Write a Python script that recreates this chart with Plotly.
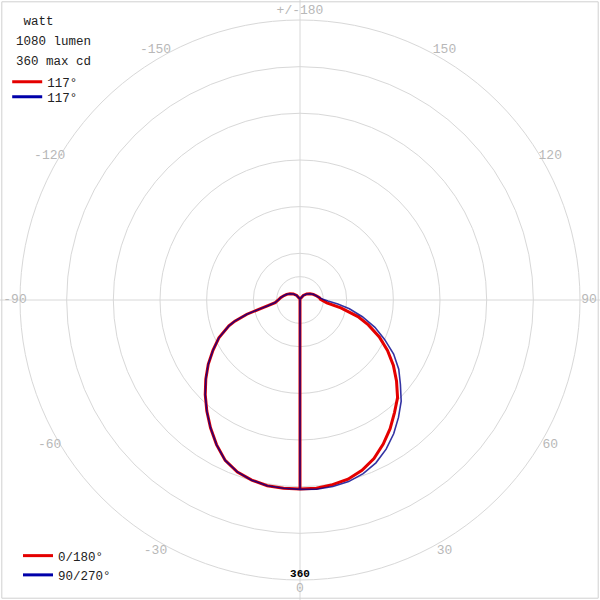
import plotly.graph_objects as go

# ---------------- data ----------------
# 0/180 plane (red): gamma angle (deg) and intensity
red_theta = [-180, -165, -153, -144, -132, -122, -113, -103.5, -97, -90, -84, -80, -77.5, -75, -72, -70,
             -65, -60, -55, -50, -45, -40, -35, -30, -25, -20, -15, -10, -5, 0,
             5, 10, 15, 20, 25, 30, 35, 40, 45, 50, 55, 60, 65, 70, 74, 79, 84, 92,
             97, 103.5, 113, 122, 132, 144, 153, 165, 180]
red_r = [1.9, 2.3, 2.8, 7.2, 11.6, 15.2, 18.6, 22.1, 25.1, 27.9, 32.1, 41.8, 52.7, 70.7, 88.1, 97.3,
         115.1, 129.2, 144.0, 158.1, 172.3, 186.4, 200.6, 214.7, 227.6, 235.3, 239.8, 242.4, 243.0, 243.0,
         243.0, 241.0, 238.5, 233.0, 225.0, 214.0, 202.0, 189.0, 177.4, 162.0, 146.6, 129.9, 112.5, 93.5,
         77.5, 53.5, 34.7, 26.4,
         25.1, 22.1, 18.6, 15.2, 11.6, 7.2, 2.8, 2.3, 1.9]

# 90/270 plane (blue)
blue_theta = [-180, -165, -153, -144, -132, -122, -113, -103.5, -97, -90, -84, -80, -77.5, -75, -72, -70,
              -65, -60, -55, -50, -45, -40, -35, -30, -25, -20, -15, -10, -5, 0,
              5, 10, 15, 20, 25, 30, 35, 40, 45, 50, 55, 60, 65, 70, 75, 80, 84, 88, 92,
              97, 103.5, 113, 122, 132, 144, 153, 165, 180]
blue_r = [1.9, 2.3, 2.8, 7.2, 11.6, 15.2, 18.6, 22.1, 25.1, 27.9, 32.1, 41.8, 52.7, 70.7, 88.1, 97.3,
          115.1, 129.2, 144.0, 158.1, 172.3, 186.4, 200.6, 214.7, 227.6, 235.3, 239.8, 242.4, 243.0, 243.5,
          244.3, 243.4, 241.7, 237.5, 231.0, 221.5, 210.0, 197.0, 184.0, 168.5, 155.0, 139.0, 120.0, 102.5,
          83.0, 64.5, 48.9, 36.0, 29.6,
          25.1, 22.1, 18.6, 15.2, 11.6, 7.2, 2.8, 2.3, 1.9]

ring_values = [30, 60, 120, 180, 240, 300, 360]
ring_max = 360
angle_ticks = [180, 150, 120, 90, 60, 30, 0, -30, -60, -90, -120, -150]
angle_labels = ["+/-180", "150", "120", "90", "60", "30", "0", "-30", "-60", "-90", "-120", "-150"]

info_lines = ["\u00a0watt", "1080 lumen", "360 max cd"]
beam_labels = ["117°", "117°"]
plane_labels = ["0/180°", "90/270°"]

RED = "rgb(228,0,0)"
BLUE = "rgba(0,0,140,0.8)"
BLUE_SOLID = "rgb(0,0,170)"
MONO = "Liberation Mono, DejaVu Sans Mono, monospace"


def closed(theta, r):
    # polyline returns from the last point to the nadir (gamma = 0)
    i0 = theta.index(0)
    return theta + [theta[i0]], r + [r[i0]]


fig = go.Figure()

rt, rr = closed(red_theta, red_r)
bt, br = closed(blue_theta, blue_r)
fig.add_trace(go.Scatterpolar(theta=rt, r=rr, mode="lines",
                              line=dict(color=RED, width=3), showlegend=False))
fig.add_trace(go.Scatterpolar(theta=bt, r=br, mode="lines",
                              line=dict(color=BLUE, width=1.6), showlegend=False))

# angle labels (placed just outside the outer ring)
label_r = [ring_max * (285 if t == -90 else 289) / 280 for t in angle_ticks]
fig.add_trace(go.Scatterpolar(theta=angle_ticks, r=label_r,
                              mode="text", text=angle_labels, textposition="middle center",
                              textfont=dict(family=MONO, size=13, color="#b8b8b8"),
                              showlegend=False, hoverinfo="skip"))
# max ring label
fig.add_trace(go.Scatterpolar(theta=[0], r=[ring_max], mode="text", text=[f"<b>{ring_max}</b>"],
                              textposition="top center",
                              textfont=dict(family=MONO, size=11, color="black"),
                              showlegend=False, hoverinfo="skip"))

# legend entries (single-point line traces: draw nothing on the plot)
for name, col, th, rv, lg in zip(beam_labels, [RED, BLUE_SOLID], [red_theta, blue_theta],
                                 [red_r, blue_r], ["legend", "legend3"]):
    fig.add_trace(go.Scatterpolar(theta=th[:1], r=rv[:1], mode="lines", name=name,
                                  line=dict(color=col, width=3), legend=lg, hoverinfo="skip"))
for name, col, th, rv in zip(plane_labels, [RED, BLUE_SOLID], [red_theta, blue_theta], [red_r, blue_r]):
    fig.add_trace(go.Scatterpolar(theta=th[:1], r=rv[:1], mode="lines", name=name,
                                  line=dict(color=col, width=3), legend="legend2", hoverinfo="skip"))

annotations = []
for i, t in enumerate(info_lines):
    annotations.append(dict(text=t, xref="paper", yref="paper", x=14 / 600, y=1 - (22 + 20 * i) / 600,
                            xanchor="left", yanchor="middle", showarrow=False,
                            font=dict(family=MONO, size=12.5, color="#222")))

leg_common = dict(xanchor="left", yanchor="middle", bgcolor="rgba(0,0,0,0)",
                  font=dict(family=MONO, size=12.5, color="#222"), itemwidth=30, tracegroupgap=0)

fig.update_layout(
    width=600, height=600,
    margin=dict(l=0, r=0, t=0, b=0),
    paper_bgcolor="white",
    polar=dict(
        domain=dict(x=[0, 1], y=[0, 1]),
        bgcolor="white",
        radialaxis=dict(range=[0, ring_max * 300 / 280], tickvals=ring_values, showticklabels=False,
                        ticks="", showline=False, gridcolor="#d8d8d8", gridwidth=1),
        angularaxis=dict(rotation=-90, direction="counterclockwise", tickvals=[0, 90, 180, 270],
                         showticklabels=False, ticks="", showline=False, gridcolor="#d8d8d8", gridwidth=1),
    ),
    legend=dict(x=0.012, y=1 - 82 / 600, **leg_common),
    legend3=dict(x=0.012, y=1 - 97 / 600, **leg_common),
    legend2=dict(x=0.030, y=1 - 565.5 / 600, **leg_common),
    annotations=annotations,
    shapes=[dict(type="rect", xref="paper", yref="paper", x0=0.003, y0=0.003, x1=0.997, y1=0.997,
                 line=dict(color="#d0d0d0", width=1))],
)

fig.write_html("out.html", config={"displayModeBar": False},
               post_script="document.body.style.margin='0';")
